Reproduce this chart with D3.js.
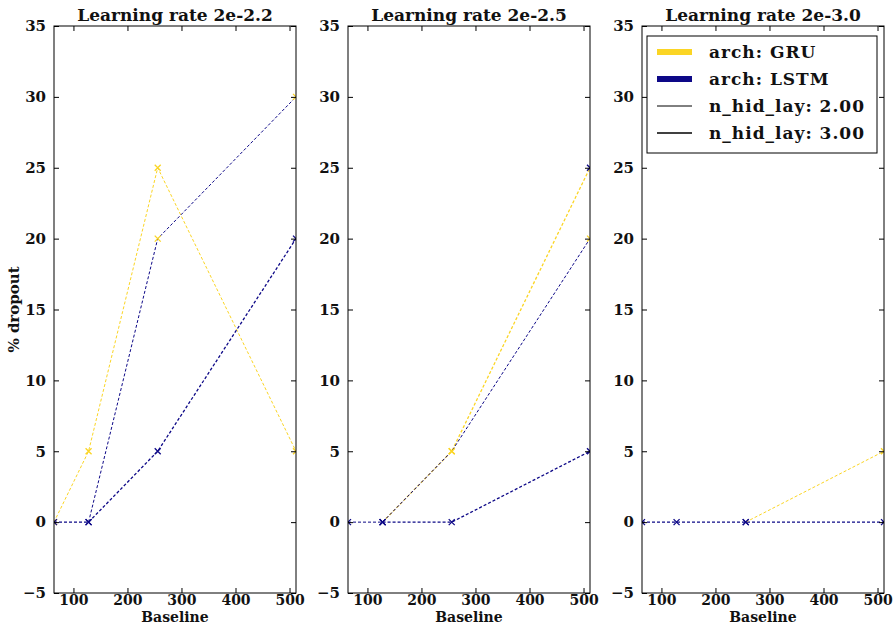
<!DOCTYPE html>
<html lang="en">
<head>
  <meta charset="UTF-8">
  <title>dropout by baseline</title>
  <script src="https://cdn.jsdelivr.net/npm/d3@7"></script>
  <style>
    body { margin: 0; background: #fff; }
    text { font-family: "DejaVu Serif", serif; font-weight: bold; fill: #111; }
  </style>
</head>
<body>
<script>
  // data
  const xValues = [64, 128, 256, 512];
  const xTicks = [100, 200, 300, 400, 500];
  const yTicks = [-5, 0, 5, 10, 15, 20, 25, 30, 35];
  const titles = ["Learning rate 2e-2.2", "Learning rate 2e-2.5", "Learning rate 2e-3.0"];

  // each line: arch, n_hid_lay, y values at xValues, marker arch per point
  const panel1 = [
    { arch: "GRU", lay: 2, y: [0, 5, 25, 5], mk: ["GRU", "GRU", "GRU", "GRU"] },
    { arch: "LSTM", lay: 2, y: [null, 0, 20, 30], mk: [null, "LSTM", "GRU", "GRU"] },
    { arch: "LSTM", lay: 3, y: [0, 0, 5, 20], mk: ["LSTM", "LSTM", "LSTM", "LSTM"] }
  ];
  const panel2 = [
    { arch: "GRU", lay: 3, y: [null, 0, 5, 25], mk: [null, "LSTM", "GRU", "LSTM"] },
    { arch: "LSTM", lay: 2, y: [0, 0, 5, 20], mk: ["LSTM", "LSTM", "GRU", "GRU"] },
    { arch: "LSTM", lay: 3, y: [null, 0, 0, 5], mk: [null, "LSTM", "LSTM", "LSTM"] }
  ];
  const panel3 = [
    { arch: "LSTM", lay: 3, y: [0, 0, 0, 0], mk: ["LSTM", "LSTM", "LSTM", "LSTM"] },
    { arch: "GRU", lay: 2, y: [null, null, 0, 5], mk: [null, null, "LSTM", "GRU"] }
  ];
  const panels = [panel1, panel2, panel3];

  const legendLabels = ["arch: GRU", "arch: LSTM", "n_hid_lay: 2.00", "n_hid_lay: 3.00"];

  const color = { GRU: "#fbd524", LSTM: "#0d0887" };
  const width = 894, height = 628;
  const marge = { top: 26, bottom: 35, left: 54 };
  const pw = 242, gap = 52;
  const ph = height - marge.top - marge.bottom;

  const svg = d3.select("body").append("svg")
    .attr("width", width)
    .attr("height", height);

  const x = d3.scaleLinear().domain([64, 512]).range([0, pw]);
  const y = d3.scaleLinear().domain([-5, 35]).range([ph, 0]);

  panels.forEach((series, i) => {
    const g = svg.append("g")
      .attr("transform", "translate(" + (marge.left + i * (pw + gap)) + "," + marge.top + ")");

    g.append("clipPath").attr("id", "clip" + i)
      .append("rect").attr("width", pw).attr("height", ph);

    const plot = g.append("g").attr("clip-path", "url(#clip" + i + ")");

    // lines
    series.forEach(s => {
      const pts = xValues.map((xv, j) => ({ x: xv, y: s.y[j], mk: s.mk[j] }));
      const line = d3.line()
        .defined(d => d.y !== null)
        .x(d => x(d.x))
        .y(d => y(d.y));
      plot.append("path")
        .attr("d", line(pts))
        .attr("fill", "none")
        .attr("stroke", color[s.arch])
        .attr("stroke-width", s.lay === 3 ? 1.3 : 1)
        .attr("stroke-dasharray", "3,2");

      // x markers
      plot.selectAll(null)
        .data(pts.filter(d => d.y !== null))
        .enter()
        .append("path")
        .attr("transform", d => "translate(" + x(d.x) + "," + y(d.y) + ")")
        .attr("d", "M-3,-3L3,3M-3,3L3,-3")
        .attr("stroke", d => color[d.mk])
        .attr("stroke-width", 1.3);
    });

    // axes, ticks inside on all sides
    const axes = [
      d3.axisBottom(x).tickValues(xTicks).tickSizeInner(-5).tickSizeOuter(0).tickPadding(2),
      d3.axisTop(x).tickValues(xTicks).tickSizeInner(-5).tickSizeOuter(0).tickFormat(""),
      d3.axisLeft(y).tickValues(yTicks).tickSizeInner(-5).tickSizeOuter(0).tickPadding(8)
        .tickFormat(d => d < 0 ? "\u2212" + Math.abs(d) : d),
      d3.axisRight(y).tickValues(yTicks).tickSizeInner(-5).tickSizeOuter(0).tickFormat("")
    ];
    const pos = ["translate(0," + ph + ")", "", "", "translate(" + pw + ",0)"];
    axes.forEach((ax, k) => {
      const a = g.append("g").attr("transform", pos[k]).call(ax);
      a.select(".domain").remove();
      a.selectAll("line").attr("stroke", "#000");
      a.selectAll("text").attr("font-size", k === 0 ? 14 : 15).attr("font-family", null).attr("fill", "#111");
    });

    g.append("rect")
      .attr("width", pw).attr("height", ph)
      .attr("fill", "none").attr("stroke", "#000").attr("stroke-width", 1);

    g.append("text")
      .attr("x", pw / 2).attr("y", -5)
      .attr("text-anchor", "middle")
      .attr("font-size", 17)
      .text(titles[i]);

    g.append("text")
      .attr("x", pw / 2).attr("y", ph + 29)
      .attr("text-anchor", "middle")
      .attr("font-size", 14)
      .text("Baseline");
  });

  // y label
  svg.append("text")
    .attr("transform", "translate(19," + (marge.top + ph / 2) + ") rotate(-90)")
    .attr("text-anchor", "middle")
    .attr("font-size", 15)
    .text("% dropout");

  // legend
  const lg = svg.append("g").attr("transform", "translate(647,36)");
  lg.append("rect")
    .attr("width", 230).attr("height", 117)
    .attr("fill", "#fff").attr("stroke", "#000").attr("stroke-width", 1);
  const handles = [
    { c: color.GRU, w: 6 },
    { c: color.LSTM, w: 6 },
    { c: "#000", w: 1 },
    { c: "#000", w: 1.6 }
  ];
  legendLabels.forEach((lab, k) => {
    const yy = 16 + k * 27;
    lg.append("line")
      .attr("x1", 10).attr("x2", 45).attr("y1", yy).attr("y2", yy)
      .attr("stroke", handles[k].c).attr("stroke-width", handles[k].w);
    lg.append("text")
      .attr("x", 62).attr("y", yy + 6)
      .attr("font-size", 17)
      .attr("letter-spacing", 1)
      .text(lab);
  });
</script>
</body>
</html>
